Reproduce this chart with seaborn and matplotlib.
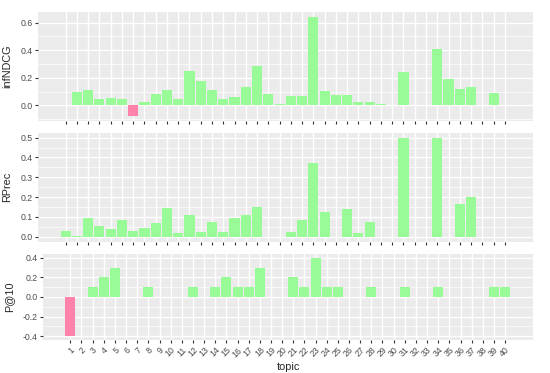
import numpy as np
import pandas as pd
import matplotlib
matplotlib.use("Agg")
import matplotlib.pyplot as plt
import seaborn as sns

topics = [str(i) for i in range(1, 41)]
nan = np.nan

# values (missing bars as NaN)
infndcg = [0.005, 0.10, 0.11, 0.05, 0.055, 0.05, -0.077, 0.024, 0.086, 0.115,
           0.05, 0.252, 0.178, 0.115, 0.043, 0.06, 0.134, 0.288, 0.086, 0.007,
           0.065, 0.065, 0.643, 0.108, 0.077, 0.079, 0.026, 0.026, 0.012, nan,
           0.24, nan, nan, 0.408, 0.19, 0.118, 0.13, nan, 0.091, nan]
rprec = [0.027, 0.005, 0.097, 0.055, 0.037, 0.084, 0.027, 0.042, 0.07, 0.143,
         0.02, 0.109, 0.022, 0.075, 0.022, 0.094, 0.111, 0.149, nan, nan,
         0.023, 0.082, 0.374, 0.124, nan, 0.141, 0.02, 0.072, nan, nan,
         0.5, nan, nan, 0.5, nan, 0.166, 0.2, nan, nan, nan]
p10 = [-0.4, nan, 0.1, 0.2, 0.3, nan, nan, 0.1, nan, nan,
       nan, 0.1, nan, 0.1, 0.2, 0.1, 0.1, 0.3, nan, nan,
       0.2, 0.1, 0.4, 0.1, 0.1, nan, nan, 0.1, nan, nan,
       0.1, nan, nan, 0.1, nan, nan, nan, nan, 0.1, 0.1]

pos_color = "#98FB98"
neg_color = "#FF82AB"

sns.set_style("white")
plt.rcParams["font.family"] = ["Liberation Sans", "DejaVu Sans"]
plt.rcParams["axes.unicode_minus"] = False

W, H = 550, 373
fig = plt.figure(figsize=(5.5, 3.73), dpi=100)


def panel(values, ylabel, box, ylim, major, minor, show_labels, label_x):
    x0, y0, x1, y1 = box
    ax = fig.add_axes([x0 / W, 1 - y1 / H, (x1 - x0) / W, (y1 - y0) / H])
    df = pd.DataFrame({"topic": topics, "value": values})
    df["sign"] = np.where(df["value"] < 0, "neg", "pos")
    sns.barplot(data=df, x="topic", y="value", hue="sign", order=topics,
                palette={"pos": pos_color, "neg": neg_color}, dodge=False,
                width=0.9, errorbar=None, legend=False, linewidth=0,
                saturation=1, ax=ax)
    ax.set_facecolor("#EBEBEB")
    for s in ax.spines.values():
        s.set_visible(False)
    ax.set_xlim(-2.45, 41.5)
    ax.set_ylim(*ylim)
    ax.set_yticks(major)
    ax.set_yticks(minor, minor=True)
    ax.set_yticklabels([f"{v:.1f}" for v in major])
    ax.grid(True, which="major", color="white", linewidth=1.0)
    ax.grid(True, which="minor", axis="y", color="white", linewidth=0.5)
    ax.set_axisbelow(True)
    ax.tick_params(axis="both", which="major", bottom=True, left=True,
                   length=2.5, width=0.8, color="#333333", labelsize=6.3,
                   labelcolor="#4D4D4D", pad=1.5)
    ax.tick_params(axis="y", which="minor", length=0)
    if show_labels:
        ax.set_xticklabels(topics, rotation=45, ha="right", rotation_mode="anchor")
        ax.set_xlabel("topic", fontsize=7.8, labelpad=2)
    else:
        ax.set_xticklabels([])
        ax.set_xlabel("")
    ax.set_ylabel(ylabel, fontsize=7.8)
    ax.yaxis.set_label_coords(label_x, 0.5)
    return ax


panel(infndcg, "infNDCG", (38, 11.7, 533, 121), (-0.113, 0.679),
      [0.0, 0.2, 0.4, 0.6], [-0.1, 0.1, 0.3, 0.5], False, -0.052)
panel(rprec, "RPrec", (38, 132.7, 533, 241.7), (-0.025, 0.525),
      [0.0, 0.1, 0.2, 0.3, 0.4, 0.5],
      [0.05, 0.15, 0.25, 0.35, 0.45], False, -0.052)
panel(p10, "P@10", (43, 254, 533, 340), (-0.44, 0.44),
      [-0.4, -0.2, 0.0, 0.2, 0.4], [-0.3, -0.1, 0.1, 0.3], True, -0.059)

fig.savefig("out.png", dpi=100)
